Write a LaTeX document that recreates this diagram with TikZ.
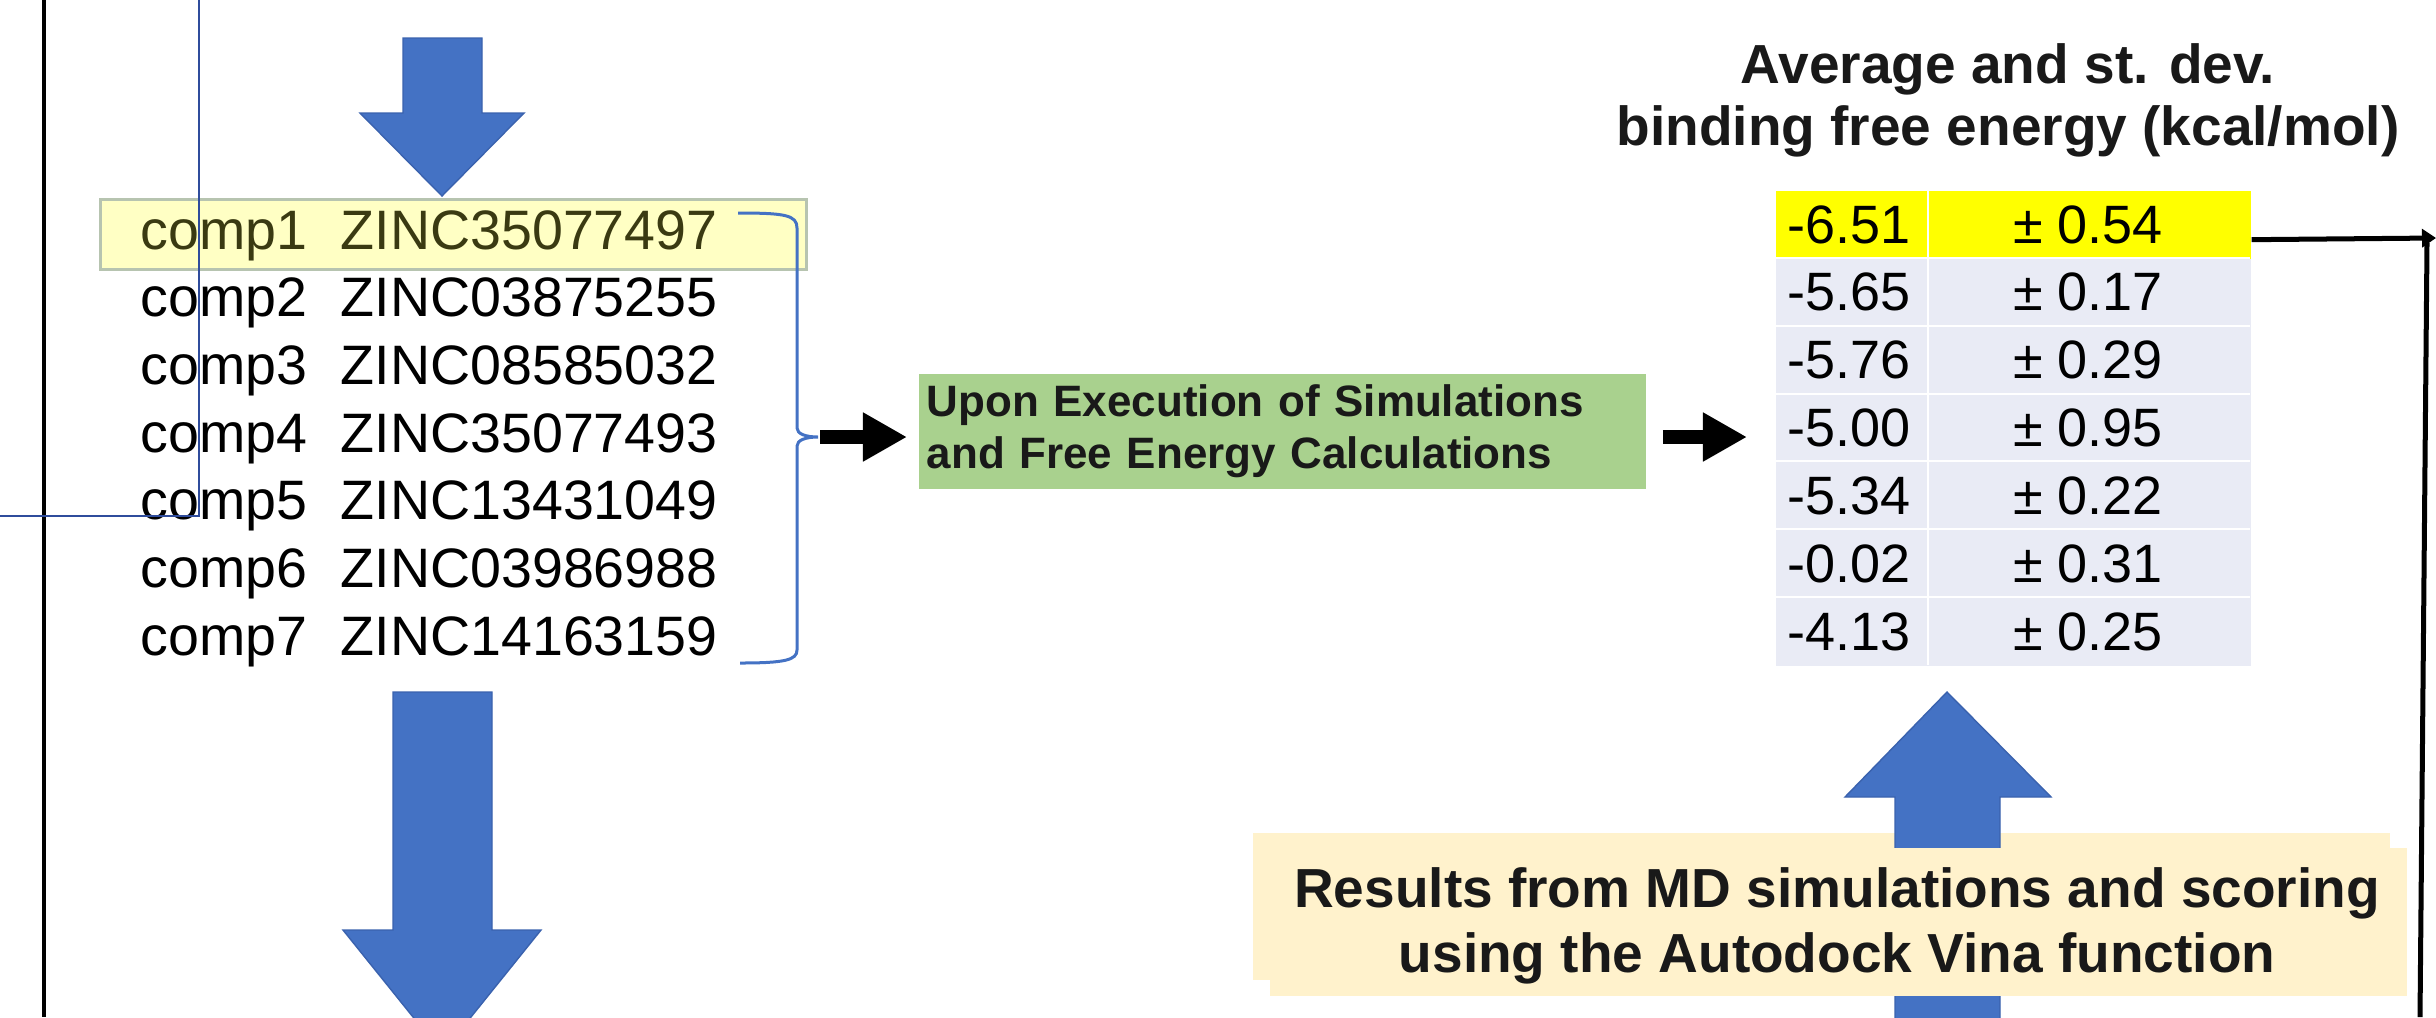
\documentclass[tikz,border=0pt]{standalone}
\usepackage{fontspec}
\setmainfont{Liberation Sans}
\usetikzlibrary{arrows.meta}
\definecolor{arrblue}{HTML}{4472C4}
\definecolor{arredge}{HTML}{3A62AE}
\definecolor{lineblue}{HTML}{2F4C9C}
\definecolor{hlyellow}{HTML}{FFFFC4}
\definecolor{hledge}{HTML}{B7C4B0}
\definecolor{olivetxt}{HTML}{3A3A12}
\definecolor{calcgreen}{HTML}{A9D18E}
\definecolor{tabyellow}{HTML}{FFFF00}
\definecolor{tabband}{HTML}{E9EBF5}
\definecolor{beige}{HTML}{FFF2CC}
\begin{document}
\begin{tikzpicture}[x=0.01cm,y=-0.01cm,
  listtxt/.style={anchor=base west, inner sep=0, font=\fontsize{15.8pt}{18pt}\selectfont},
  numtxt/.style={inner sep=0, font=\fontsize{15.36pt}{18pt}\selectfont},
  bigarrow/.style={fill=arrblue, draw=arredge, line width=0.4pt, line join=miter},
  blkarrow/.style={line width=0.14cm, -{Triangle[length=0.44cm,width=0.46cm]}},
  rowcell/.style={minimum width=4.75cm, minimum height=0.6786cm, inner sep=0, draw=none, anchor=north west},
]
\path[use as bounding box] (0,0) rectangle (2436,1017);
\clip (0,0) rectangle (2436,1017);

% highlighted first row of the list
\node[draw=hledge, fill=hlyellow, line width=0.03cm, minimum width=7.06cm, minimum height=0.70cm,
      inner sep=0, anchor=north west] (hl) at (99,198) {};

% list of compounds
\foreach \z/\col [count=\i] in {ZINC35077497/olivetxt, ZINC03875255/black, ZINC08585032/black,
    ZINC35077493/black, ZINC13431049/black, ZINC03986988/black, ZINC14163159/black} {
  \node[listtxt, text=\col] (c\i) at (140,{249+(\i-1)*67.7}) {comp\i};
  \node[listtxt, text=\col] (z\i) at (340,{249+(\i-1)*67.7}) {\z};
}

% big blue arrows (left column)
\fill[bigarrow] (403,38) -- (482,38) -- (482,113) -- (524,113) -- (442,196) -- (360,113) -- (403,113) -- cycle;
\fill[bigarrow] (393,692) -- (492,692) -- (492,930) -- (541,930) -- (442,1053) -- (343,930) -- (393,930) -- cycle;

% brace
\coordinate (btip) at (818,437);
\draw[arrblue, line width=0.03cm] (738,213) .. controls (785,213) and (797,215) .. (797,228) -- (797,428)
  .. controls (797,434) and (806,437) .. (btip)
  .. controls (806,437) and (797,440) .. (797,446) -- (797,650)
  .. controls (797,660) and (785,663) .. (740,663);

% green box
\node[fill=calcgreen, anchor=north west, minimum height=1.15cm, text width=7.11cm, inner xsep=0.08cm,
      inner ysep=0, align=left, text=black!90, font=\bfseries\fontsize{12.5pt}{14.8pt}\selectfont]
      (calc) at (918,373) {Upon Execution of Simulations\\and Free Energy Calculations};

% table
\node[minimum width=4.75cm, minimum height=4.75cm, inner sep=0, anchor=north west] (tbl) at (1775,190) {};
\foreach \col [count=\i] in {tabyellow,tabband,tabband,tabband,tabband,tabband,tabband} {
  \node[rowcell, fill=\col] (r\i) at (1775,{190+(\i-1)*67.86}) {};
}
\draw[white, line width=0.02cm] (1928,190) -- (1928,665);
\foreach \i in {1,...,6} {
  \draw[white, line width=0.02cm] (1775,{190+\i*67.86}) -- (2250,{190+\i*67.86});
}
\foreach \a/\b [count=\i] in {-6.51/0.54, -5.65/0.17, -5.76/0.29, -5.00/0.95, -5.34/0.22, -0.02/0.31, -4.13/0.25} {
  \node[numtxt, anchor=base west] (a\i) at (1787,{243+(\i-1)*67.86}) {\a};
  \node[numtxt, anchor=base] (b\i) at (2088,{243+(\i-1)*67.86}) {± \b};
}

% title
\node[font=\bfseries\fontsize{15.65pt}{17.64pt}\selectfont, align=center, inner sep=0, text=black!90]
  (title) at (2008,100) {Average and st. dev.\\binding free energy (kcal/mol)};

% black block arrows
\draw[blkarrow, shorten <=0.02cm, shorten >=0.11cm] (btip) -- (btip -| calc.west);
\draw[blkarrow, shorten <=0.16cm, shorten >=0.28cm] (btip -| calc.east) -- (btip -| tbl.west);

% right connector
\coordinate (redge) at (2436,238);
\coordinate (vtop) at (2427,243);
\coordinate (vbot) at (2420,1017);
\draw[line width=0.05cm, -{Triangle[length=0.14cm,width=0.18cm]}] ([yshift=-0.15cm]r1.east) -- (redge);
\draw[line width=0.05cm] (vtop) -- (vbot);

% results box with up arrow
\fill[beige] (1253,833) rectangle (2390,980);
\fill[bigarrow] (1947,692) -- (2051,797) -- (2000,797) -- (2000,1040) -- (1895,1040) -- (1895,797) -- (1845,797) -- cycle;
\node[fill=beige, minimum width=11.37cm, minimum height=1.48cm, anchor=north west, inner sep=0] (resbox) at (1269,847) {};
\node[font=\bfseries\fontsize{15.65pt}{18.5pt}\selectfont, align=center, inner sep=0, text=black!90]
  (res) at (1837,926) {Results from MD simulations and scoring\\using the Autodock Vina function};

% thin frame lines
\draw[black, line width=0.03cm] (44,0) -- (44,1017);
\draw[lineblue, line width=0.02cm] (0,516) -- (199,516) -- (199,0);
\end{tikzpicture}
\end{document}
